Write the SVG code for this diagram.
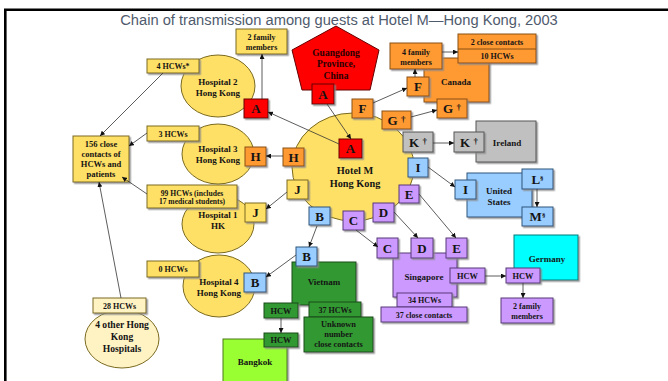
<svg xmlns="http://www.w3.org/2000/svg" width="668" height="381" viewBox="0 0 668 381">
<defs>
<filter id="sh" x="-20%" y="-20%" width="150%" height="150%">
<feDropShadow dx="1.5" dy="1.5" stdDeviation="0.3" flood-color="#8a8a8a" flood-opacity="0.8"/>
</filter>
<marker id="ar" viewBox="0 0 6 6" refX="6" refY="3" markerWidth="5" markerHeight="5" orient="auto" markerUnits="userSpaceOnUse">
<path d="M0,0 L6,3 L0,6 z" fill="#111"/>
</marker>
</defs>
<style>
text{font-family:"Liberation Serif","Times New Roman",serif;font-weight:bold;fill:#141414;text-anchor:middle}
.t13{font-size:13px}
.t8{font-size:8px}
.t9{font-size:9px}
.t10{font-size:10px}
rect{stroke-width:1;filter:url(#sh)}
.yel{fill:#ffe066;stroke:#7a6a20}
.ly{fill:#fff3c4;stroke:#7a6a20}
.red{fill:#ff0000;stroke:#600}
.org{fill:#ff9933;stroke:#8a5010}
.gry{fill:#c0c0c0;stroke:#555}
.blu{fill:#99ccff;stroke:#2f557a}
.pur{fill:#cc99ff;stroke:#583878}
.grn{fill:#339933;stroke:#1a4a1a}
.lim{fill:#99ff33;stroke:#4a7a1a}
.cyn{fill:#00ffff;stroke:#007a7a}
ellipse{stroke-width:1}
.cn line{stroke:#333;stroke-width:0.8;marker-end:url(#ar)}
</style>
<rect x="0" y="0" width="668" height="381" fill="#fff" style="filter:none" stroke="none"/>
<g id="frame">
<line x1="4" y1="9.7" x2="668" y2="9.7" stroke="#000" stroke-width="2.6"/>
<line x1="5.3" y1="9" x2="5.3" y2="381" stroke="#000" stroke-width="2.6"/>
</g>
<text id="title" x="339" y="25" style="font-family:'Liberation Sans',Arial,sans-serif;font-weight:normal;font-size:14.7px;fill:#4f5b6d">Chain of transmission among guests at Hotel M—Hong Kong, 2003</text>

<g id="hospital2">
<ellipse cx="218" cy="86" rx="37" ry="31" class="yel"/>
<text class="t9" x="218" y="85">Hospital 2</text>
<text class="t9" x="218" y="96">Hong Kong</text>
</g>
<g id="hcw4">
<rect x="147" y="59" width="52" height="14" class="yel"/>
<text class="t8" x="173" y="69">4 HCWs*</text>
</g>
<g id="fam2hk">
<rect x="236" y="29" width="51" height="25" class="yel"/>
<text class="t8" x="261.5" y="40">2 family</text>
<text class="t8" x="261.5" y="49.5">members</text>
</g>
<g id="a-h2">
<rect x="244" y="99" width="24" height="19" class="red"/>
<text class="t13" x="256" y="113">A</text>
</g>

<g id="hospital3">
<ellipse cx="218" cy="154" rx="36" ry="30" class="yel"/>
<text class="t9" x="218" y="152">Hospital 3</text>
<text class="t9" x="218" y="163">Hong Kong</text>
</g>
<g id="hcw3">
<rect x="147" y="126" width="52" height="15" class="yel"/>
<text class="t8" x="173" y="136.5">3 HCWs</text>
</g>
<g id="h-h3">
<rect x="245" y="147" width="21" height="19" class="org"/>
<text class="t13" x="255.5" y="161">H</text>
</g>

<g id="contacts156">
<rect x="73" y="136" width="56" height="46" class="yel"/>
<text class="t8" x="101" y="147" style="font-size:8.5px">156  close</text>
<text class="t8" x="101" y="157" style="font-size:8.5px">contacts of</text>
<text class="t8" x="101" y="167" style="font-size:8.5px">HCWs and</text>
<text class="t8" x="101" y="177" style="font-size:8.5px">patients</text>
</g>

<g id="hospital1">
<ellipse cx="218" cy="224" rx="36" ry="29" class="yel"/>
<text class="t9" x="218" y="218">Hospital 1</text>
<text class="t9" x="218" y="229">HK</text>
</g>
<g id="hcw99">
<rect x="147" y="185" width="90" height="23" class="yel"/>
<text x="192" y="195.5" style="font-size:7.6px">99 HCWs (includes</text>
<text x="192" y="204" style="font-size:7.6px">17 medical students)</text>
</g>
<g id="j-h1">
<rect x="245" y="203" width="21" height="19" class="yel"/>
<text class="t13" x="255.5" y="217">J</text>
</g>

<g id="hospital4">
<ellipse cx="219" cy="286" rx="36" ry="31" class="yel"/>
<text class="t9" x="219" y="285">Hospital 4</text>
<text class="t9" x="219" y="296">Hong Kong</text>
</g>
<g id="hcw0">
<rect x="147" y="261" width="52" height="16" class="yel"/>
<text class="t8" x="173" y="272">0 HCWs</text>
</g>
<g id="b-h4">
<rect x="244" y="273" width="22" height="19" class="blu"/>
<text class="t13" x="255" y="287">B</text>
</g>

<g id="others">
<ellipse cx="122" cy="339" rx="37" ry="29" class="ly"/>
<text x="122" y="327.5" style="font-size:9.6px">4 other Hong</text>
<text x="122" y="339.5" style="font-size:9.6px">Kong</text>
<text x="122" y="351.5" style="font-size:9.6px">Hospitals</text>
</g>
<g id="hcw28">
<rect x="93" y="298" width="53" height="15" class="ly"/>
<text class="t8" x="119.5" y="308.5">28 HCWs</text>
</g>

<g id="guangdong">
<polygon points="336,26 379,50 370,90 302,90 292,50" fill="#ff0000" stroke="#600" stroke-width="1"/>
<text x="336" y="56.3" style="font-size:9.5px;fill:#2a0000">Guangdong</text>
<text x="336" y="67.3" style="font-size:9.5px;fill:#2a0000">Province,</text>
<text x="336" y="79.3" style="font-size:9.5px;fill:#2a0000">China</text>
</g>
<g id="a-gd">
<rect x="312" y="84" width="22" height="20" class="red"/>
<text class="t13" x="323" y="98.5">A</text>
</g>

<g id="hotelM">
<ellipse cx="353" cy="167" rx="61" ry="54" class="yel"/>
<text x="355" y="174" style="font-size:10.3px">Hotel M</text>
<text x="355" y="187" style="font-size:10.3px">Hong Kong</text>
</g>
<g id="a-hotel">
<rect x="339" y="139" width="23" height="19" class="red"/>
<text class="t13" x="350.5" y="153">A</text>
</g>
<g id="f-hotel">
<rect x="352" y="99" width="21" height="19" class="org"/>
<text class="t13" x="362.5" y="113">F</text>
</g>
<g id="g-hotel">
<rect x="382" y="111" width="29" height="18" class="org"/>
<text class="t13" x="396.5" y="124.5">G <tspan style="font-size:9px" dy="-3">†</tspan></text>
</g>
<g id="k-hotel">
<rect x="403" y="132" width="30" height="20" class="gry"/>
<text class="t13" x="418" y="146.5">K <tspan style="font-size:9px" dy="-3">†</tspan></text>
</g>
<g id="i-hotel">
<rect x="408" y="158" width="20" height="19" class="blu"/>
<text class="t13" x="418" y="172">I</text>
</g>
<g id="e-hotel">
<rect x="399" y="185" width="20" height="18" class="pur"/>
<text class="t13" x="409" y="198.5">E</text>
</g>
<g id="d-hotel">
<rect x="373" y="203" width="21" height="19" class="pur"/>
<text class="t13" x="383.5" y="217">D</text>
</g>
<g id="c-hotel">
<rect x="343" y="211" width="21" height="19" class="pur"/>
<text class="t13" x="353.5" y="225">C</text>
</g>
<g id="b-hotel">
<rect x="309" y="207" width="21" height="18" class="blu"/>
<text class="t13" x="319.5" y="220.5">B</text>
</g>
<g id="j-hotel">
<rect x="287" y="180" width="21" height="19" class="yel"/>
<text class="t13" x="297.5" y="194">J</text>
</g>
<g id="h-hotel">
<rect x="283" y="148" width="21" height="18" class="org"/>
<text class="t13" x="293.5" y="161.5">H</text>
</g>

<g id="canada">
<rect x="424" y="58" width="65" height="44" class="org"/>
<text class="t9" x="456" y="85">Canada</text>
</g>
<g id="fam4">
<rect x="390" y="43" width="52" height="26" class="org"/>
<text class="t8" x="416" y="54.5">4 family</text>
<text class="t8" x="416" y="64.5">members</text>
</g>
<g id="f-can">
<rect x="407" y="77" width="22" height="19" class="org"/>
<text class="t13" x="418" y="91">F</text>
</g>
<g id="g-can">
<rect x="437" y="99" width="30" height="19" class="org"/>
<text class="t13" x="452" y="113">G <tspan style="font-size:9px" dy="-3">†</tspan></text>
</g>
<g id="close2">
<rect x="458" y="34" width="78" height="29" class="org"/>
<line x1="458" y1="49" x2="536" y2="49" stroke="#8a5010" stroke-width="1"/>
<text class="t8" x="497" y="44.5">2 close contacts</text>
<text class="t8" x="497" y="59">10 HCWs</text>
</g>

<g id="ireland">
<rect x="476" y="121" width="60" height="41" class="gry"/>
<text class="t9" x="507" y="146">Ireland</text>
</g>
<g id="k-ire">
<rect x="454" y="132" width="30" height="20" class="gry"/>
<text class="t13" x="469" y="146.5">K <tspan style="font-size:9px" dy="-3">†</tspan></text>
</g>

<g id="us">
<rect x="467" y="173" width="65" height="44" class="blu"/>
<text class="t9" x="499" y="194">United</text>
<text class="t9" x="499" y="205">States</text>
</g>
<g id="i-us">
<rect x="455" y="180" width="21" height="19" class="blu"/>
<text class="t13" x="465.5" y="194">I</text>
</g>
<g id="l-us">
<rect x="522" y="169" width="31" height="20" class="blu"/>
<text class="t13" x="537.5" y="183.5">L<tspan style="font-size:7px" dy="-4">§</tspan></text>
</g>
<g id="m-us">
<rect x="522" y="207" width="31" height="19" class="blu"/>
<text class="t13" x="537.5" y="221">M<tspan style="font-size:7px" dy="-4">§</tspan></text>
</g>

<g id="singapore">
<rect x="393" y="253" width="64" height="44" class="pur"/>
<text class="t9" x="424" y="280">Singapore</text>
</g>
<g id="c-sg">
<rect x="377" y="238" width="21" height="20" class="pur"/>
<text class="t13" x="387.5" y="252.5">C</text>
</g>
<g id="d-sg">
<rect x="411" y="238" width="22" height="20" class="pur"/>
<text class="t13" x="422" y="252.5">D</text>
</g>
<g id="e-sg">
<rect x="446" y="238" width="21" height="20" class="pur"/>
<text class="t13" x="456.5" y="252.5">E</text>
</g>
<g id="hcw-sg">
<rect x="450" y="268" width="35" height="15" class="pur"/>
<text x="467.5" y="278.5" style="font-size:8.4px">HCW</text>
</g>
<g id="hcw34">
<rect x="397" y="293" width="55" height="14" class="pur"/>
<text class="t8" x="424.5" y="303">34 HCWs</text>
</g>
<g id="close37">
<rect x="381" y="307" width="86" height="15" class="pur"/>
<text class="t8" x="424" y="317.5">37 close contacts</text>
</g>

<g id="germany">
<rect x="514" y="235" width="64" height="45" class="cyn"/>
<text class="t9" x="547" y="262">Germany</text>
</g>
<g id="hcw-de">
<rect x="506" y="268" width="34" height="15" class="pur"/>
<text x="523" y="278.5" style="font-size:8.4px">HCW</text>
</g>
<g id="fam2de">
<rect x="501" y="298" width="52" height="25" class="pur"/>
<text class="t8" x="527" y="309">2 family</text>
<text class="t8" x="527" y="319">members</text>
</g>

<g id="vietnam">
<rect x="292" y="262" width="64" height="43" class="grn"/>
<text class="t9" x="324" y="285">Vietnam</text>
</g>
<g id="b-vn">
<rect x="296" y="247" width="21" height="19" class="blu"/>
<text class="t13" x="306.5" y="261">B</text>
</g>
<g id="hcw-vn">
<rect x="264" y="303" width="34" height="15" class="grn"/>
<text x="281" y="313.5" style="font-size:8.4px">HCW</text>
</g>
<g id="hcw37">
<rect x="309" y="302" width="52" height="15" class="grn"/>
<text class="t8" x="335" y="312.5">37 HCWs</text>
</g>
<g id="unknown">
<rect x="304" y="317" width="69" height="35" class="grn"/>
<text x="338.5" y="327" style="font-size:8.4px">Unknown</text>
<text x="338.5" y="337" style="font-size:8.4px">number</text>
<text x="338.5" y="347" style="font-size:8.4px">close contacts</text>
</g>

<g id="bangkok">
<rect x="223" y="339" width="64" height="46" class="lim"/>
<text class="t9" x="255" y="365">Bangkok</text>
</g>
<g id="hcw-bk">
<rect x="264" y="333" width="34" height="14" class="grn"/>
<text x="281" y="343" style="font-size:8.4px">HCW</text>
</g>

<g id="connectors" class="cn">
<line x1="327" y1="104" x2="351" y2="139"/>
<line x1="339" y1="144" x2="268" y2="112"/>
<line x1="262" y1="99" x2="262" y2="54"/>
<line x1="373" y1="103" x2="407" y2="88"/>
<line x1="415" y1="77" x2="415" y2="69"/>
<line x1="442" y1="52" x2="458" y2="52"/>
<line x1="411" y1="117" x2="437" y2="110"/>
<line x1="433" y1="143" x2="454" y2="143"/>
<line x1="428" y1="167" x2="455" y2="187"/>
<line x1="537" y1="189" x2="537" y2="207"/>
<line x1="283" y1="156" x2="266" y2="156"/>
<line x1="287" y1="192" x2="266" y2="209"/>
<line x1="317" y1="226" x2="309" y2="247"/>
<line x1="296" y1="255" x2="266" y2="277"/>
<line x1="356" y1="230" x2="378" y2="247"/>
<line x1="394" y1="212" x2="418" y2="238"/>
<line x1="419" y1="194" x2="456" y2="238"/>
<line x1="485" y1="276" x2="506" y2="276"/>
<line x1="523" y1="283" x2="523" y2="298"/>
<line x1="281" y1="318" x2="281" y2="333"/>
<line x1="163" y1="73" x2="100" y2="136"/>
<line x1="147" y1="133" x2="129" y2="146"/>
<line x1="147" y1="194" x2="122" y2="177"/>
<line x1="121" y1="298" x2="99" y2="182"/>
</g>
</svg>
